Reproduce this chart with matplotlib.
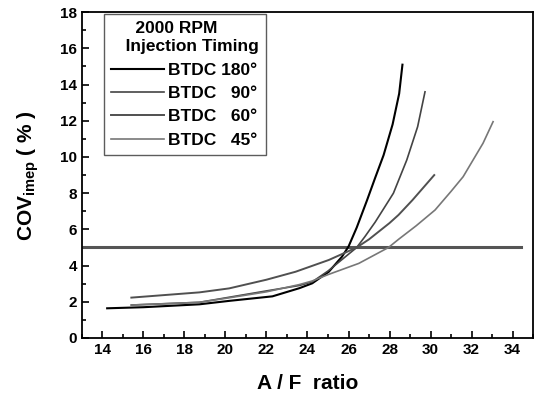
import matplotlib
matplotlib.use("Agg")
import matplotlib.pyplot as plt
from matplotlib.ticker import MultipleLocator

plt.rcParams['font.family'] = ['Liberation Sans', 'DejaVu Sans']
plt.rcParams['font.weight'] = 'bold'
plt.rcParams['mathtext.fontset'] = 'custom'
plt.rcParams['mathtext.rm'] = 'Liberation Sans:bold'
plt.rcParams['mathtext.it'] = 'Liberation Sans:bold'
plt.rcParams['mathtext.bf'] = 'Liberation Sans:bold'

labels = ["BTDC 180°", "BTDC   90°", "BTDC   60°", "BTDC   45°"]
x180 = [14.23, 16.0, 18.73, 20.18, 22.29, 23.6, 24.23, 25.04, 25.68, 26.0, 26.4, 26.9, 27.3, 27.71, 28.15, 28.47, 28.63]
y180 = [1.64, 1.7, 1.86, 2.05, 2.3, 2.75, 3.02, 3.66, 4.49, 5.05, 6.1, 7.6, 8.85, 10.1, 11.8, 13.5, 15.1]
x90 = [15.41, 18.73, 20.18, 22.0, 23.6, 24.23, 25.0, 25.7, 26.4, 26.8, 27.3, 27.98, 28.19, 28.84, 29.37, 29.73]
y90 = [1.82, 1.97, 2.25, 2.6, 2.9, 3.1, 3.7, 4.35, 5.0, 5.6, 6.4, 7.62, 8.0, 9.83, 11.67, 13.6]
x60 = [15.41, 18.73, 20.18, 22.0, 23.42, 25.04, 26.4, 27.0, 28.0, 28.44, 29.12, 30.18]
y60 = [2.23, 2.52, 2.74, 3.22, 3.66, 4.31, 5.0, 5.45, 6.35, 6.8, 7.62, 9.0]
x45 = [15.41, 18.73, 20.18, 22.0, 23.6, 24.23, 25.0, 26.5, 27.95, 28.44, 29.3, 30.22, 31.0, 31.59, 32.56, 33.05]
y45 = [1.82, 1.97, 2.22, 2.55, 2.95, 3.15, 3.5, 4.12, 5.0, 5.45, 6.2, 7.07, 8.1, 8.91, 10.76, 11.95]
limit_x = [13, 34.4]
limit_y = [5, 5]

fig = plt.figure(figsize=(5.39, 3.93), dpi=100)
ax = fig.add_axes([0.152, 0.140, 0.837, 0.829])

ax.plot(limit_x, limit_y, color='#555555', lw=2.2)
series = [(x180, y180, '#000000', 1.5), (x90, y90, '#444444', 1.2),
          (x60, y60, '#505050', 1.4), (x45, y45, '#777777', 1.2)]
handles = []
for (xs, ys, c, lw), lab in zip(series, labels):
    h, = ax.plot(xs, ys, color=c, lw=lw, label=lab)
    handles.append(h)

ax.set_xlim(13, 35)
ax.set_ylim(0, 18)
ax.xaxis.set_minor_locator(MultipleLocator(1))
ax.yaxis.set_major_locator(MultipleLocator(2))
ax.yaxis.set_minor_locator(MultipleLocator(1))
ax.set_xticks(range(14, 35, 2))
ax.tick_params(which='both', direction='in', top=False, right=False, labelsize=11, width=1.2)
ax.tick_params(which='major', length=5)
ax.tick_params(which='minor', length=3)
for lab in ax.get_xticklabels() + ax.get_yticklabels():
    lab.set_fontweight('bold')
for s in ax.spines.values():
    s.set_linewidth(1.3)

ax.set_xlabel("A / F  ratio", fontsize=15, fontweight='bold', labelpad=12)
ax.set_ylabel(r"COV$_{\mathrm{imep}}$ ( % )", fontsize=15, fontweight='bold', labelpad=14)

leg = ax.legend(handles=handles, loc='upper left', bbox_to_anchor=(0.05, 0.995),
                title="     2000 RPM\n   Injection Timing", frameon=True, fancybox=False,
                edgecolor='#333333', fontsize=12.5, handlelength=3.0, handletextpad=0.25,
                borderpad=0.4, labelspacing=0.47, borderaxespad=0.0,
                title_fontproperties={'weight': 'bold', 'size': 12.5})
leg.get_frame().set_linewidth(1.0)
leg._legend_box.align = "left"
leg.get_title().set_multialignment('left')
leg.get_title().set_linespacing(1.3)
for t in leg.get_texts():
    t.set_fontweight('bold')

fig.savefig("out.png", dpi=100)
